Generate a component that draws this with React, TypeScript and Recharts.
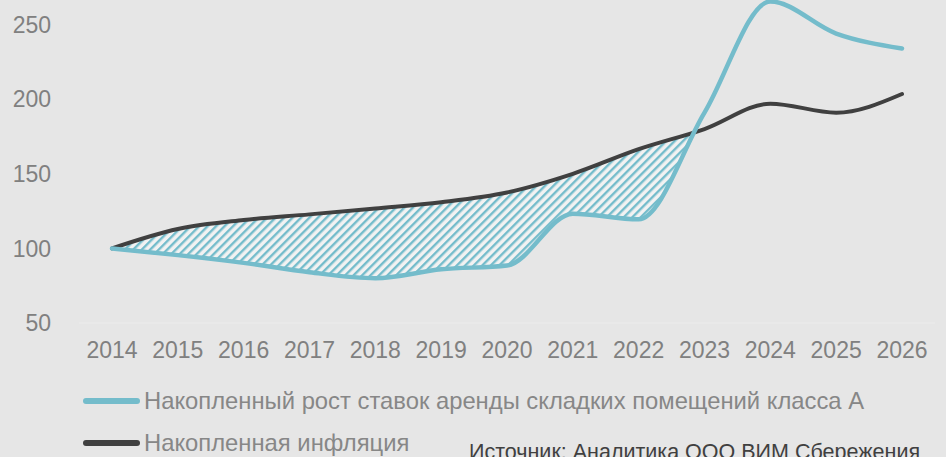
import React from 'react';
import { ComposedChart, Line, Area, XAxis, YAxis, Legend } from 'recharts';

const years = ['2014', '2015', '2016', '2017', '2018', '2019', '2020', '2021', '2022', '2023', '2024', '2025', '2026'];
const rentIndex = [100, 95.5, 90.3, 84, 80, 86, 88.5, 123.3, 119.5, 191, 265.5, 244, 234];
const inflationIndex = [100, 113, 119, 122.8, 126.8, 131, 137.5, 150, 166.5, 180, 197, 191, 203.5];
const yTicks = [50, 100, 150, 200, 250];
const yDomain = [50, 300];
const seriesNames = ['Накопленный рост ставок аренды складких помещений класса А', 'Накопленная инфляция'];
const sourceNote = 'Источник: Аналитика ООО ВИМ Сбережения';

const RENT_COLOR = '#74bccb';
const INFL_COLOR = '#404040';
const BG = '#e6e6e6';
const FONT = '"Liberation Sans", Arial, sans-serif';
const Y_MAX = yDomain[1];

const data = years.map((year, i) => ({ year, rent: rentIndex[i], infl: inflationIndex[i] }));

const legendItems = [
  { name: seriesNames[0], color: RENT_COLOR },
  { name: seriesNames[1], color: INFL_COLOR },
];

const LegendContent = () => (
  <div style={{ fontFamily: FONT }}>
    {legendItems.map((it) => (
      <div key={it.name} style={{ display: 'flex', alignItems: 'center', height: 42, whiteSpace: 'nowrap' }}>
        <span style={{ display: 'inline-block', width: 57, height: 6, borderRadius: 3, background: it.color }} />
        <span style={{ marginLeft: 4, fontSize: 23.8, color: '#878787' }}>{it.name}</span>
      </div>
    ))}
  </div>
);

export default function App() {
  return (
    <div style={{ position: 'absolute', left: 0, top: 0, width: 946, height: 457, overflow: 'hidden', background: BG }}>
      <div style={{ position: 'absolute', left: 0, top: -60 }}>
        <ComposedChart width={946} height={520} data={data} margin={{ top: 10, right: 11, bottom: 97, left: 0 }}>
          <defs>
            <pattern id="hatch" patternUnits="userSpaceOnUse" width={6} height={6} patternTransform="rotate(45)">
              <rect x={0} y={0} width={6} height={6} fill="#f2f2f2" />
              <rect x={0} y={0} width={2.4} height={6} fill={RENT_COLOR} />
            </pattern>
          </defs>
          <XAxis
            dataKey="year"
            padding={{ left: 33, right: 33 }}
            axisLine={{ stroke: '#ececec', strokeWidth: 1 }}
            tickLine={false}
            tickSize={0}
            tickMargin={19}
            height={40}
            interval={0}
            tick={{ fill: '#808080', fontSize: 23, fontFamily: FONT }}
          />
          <YAxis
            domain={yDomain}
            ticks={yTicks}
            axisLine={false}
            tickLine={false}
            tickSize={0}
            tickMargin={28}
            width={79}
            interval={0}
            tick={{ fill: '#808080', fontSize: 23, fontFamily: FONT }}
          />
          <Area
            type="monotone"
            dataKey={(d: any) => [d.rent, d.infl]}
            stroke="none"
            fill="url(#hatch)"
            fillOpacity={1}
            legendType="none"
            isAnimationActive={false}
            activeDot={false}
          />
          <Area
            type="monotone"
            dataKey={(d: any) => [d.infl, Y_MAX]}
            stroke="none"
            fill={BG}
            fillOpacity={1}
            legendType="none"
            isAnimationActive={false}
            activeDot={false}
          />
          <Line
            type="monotone"
            dataKey="infl"
            name={seriesNames[1]}
            stroke={INFL_COLOR}
            strokeWidth={4}
            strokeLinecap="round"
            dot={false}
            activeDot={false}
            isAnimationActive={false}
          />
          <Line
            type="monotone"
            dataKey="rent"
            name={seriesNames[0]}
            stroke={RENT_COLOR}
            strokeWidth={4.5}
            strokeLinecap="round"
            dot={false}
            activeDot={false}
            isAnimationActive={false}
          />
          <Legend
            layout="vertical"
            align="center"
            verticalAlign="middle"
            wrapperStyle={{ top: 440, left: 83, width: 'auto', height: 'auto' }}
            content={() => <LegendContent />}
          />
        </ComposedChart>
      </div>
      <div
        style={{
          position: 'absolute',
          left: 469,
          top: 440,
          fontFamily: FONT,
          fontSize: 21.5,
          color: '#404040',
          whiteSpace: 'nowrap',
        }}
      >
        {sourceNote}
      </div>
    </div>
  );
}
